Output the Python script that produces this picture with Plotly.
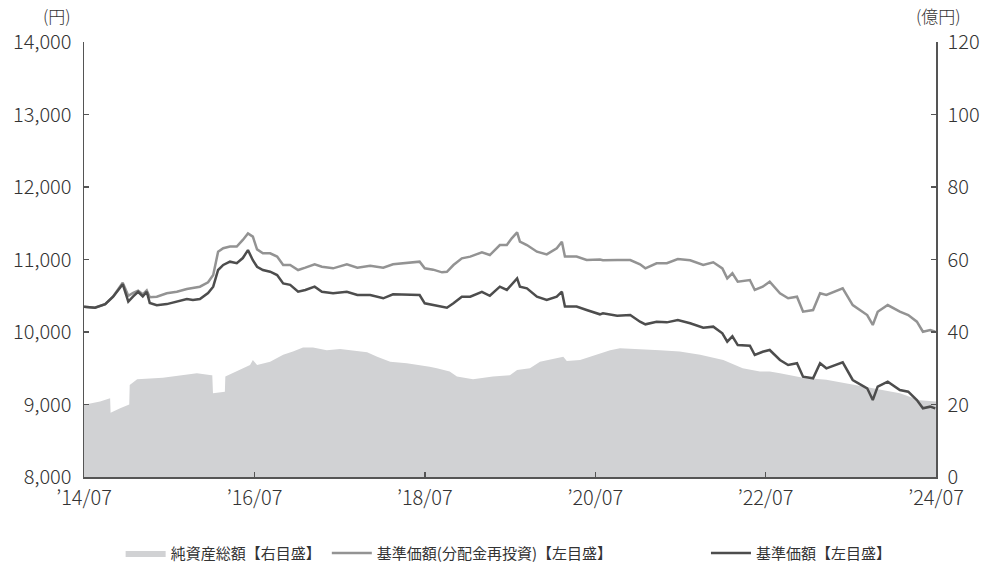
import plotly.graph_objects as go

# ---- data ----
price_dates = [
    "2014-07-01","2014-08-17","2014-09-30","2014-11-03","2014-12-14","2015-01-07","2015-01-28","2015-02-18",
    "2015-03-10","2015-03-27","2015-04-09","2015-05-09","2015-06-21","2015-08-03","2015-09-15","2015-10-11",
    "2015-11-10","2015-12-15","2016-01-06","2016-01-27","2016-02-18","2016-03-18","2016-04-16","2016-05-12",
    "2016-06-03","2016-06-24","2016-07-12","2016-08-06","2016-09-06","2016-10-06","2016-11-01","2016-12-01",
    "2017-01-04","2017-02-04","2017-03-16","2017-04-16","2017-06-03","2017-08-01","2017-09-15","2017-11-09",
    "2018-01-04","2018-02-15","2018-04-15","2018-06-09","2018-07-01","2018-08-06","2018-09-13","2018-10-04",
    "2018-11-01","2018-12-07","2019-01-12","2019-03-03","2019-04-06","2019-05-19","2019-06-18","2019-07-09",
    "2019-08-01","2019-08-13","2019-09-12","2019-10-25","2019-12-06","2020-01-18","2020-02-09","2020-02-22",
    "2020-04-12","2020-05-25","2020-07-21","2020-08-03","2020-10-03","2020-11-28","2021-01-09","2021-02-01",
    "2021-03-21","2021-05-04","2021-06-20","2021-08-12","2021-10-07","2021-11-19","2021-12-28","2022-01-18",
    "2022-02-09","2022-03-04","2022-04-25","2022-05-16","2022-06-19","2022-07-19","2022-09-01","2022-10-06",
    "2022-11-13","2022-12-09","2023-01-21","2023-02-20","2023-03-19","2023-05-28","2023-07-10","2023-09-10",
    "2023-10-04","2023-10-25","2023-12-07","2024-01-28","2024-03-04","2024-04-10","2024-05-06","2024-06-06",
    "2024-06-28",
]
nav = [
    10350,10335,10385,10487,10660,10420,10490,10555,
    10490,10555,10400,10370,10385,10420,10455,10440,
    10455,10538,10625,10855,10925,10970,10950,11020,
    11130,10990,10900,10855,10832,10786,10670,10650,
    10556,10580,10625,10556,10535,10556,10510,10510,
    10465,10520,10510,10510,10396,10372,10350,10335,
    10396,10487,10487,10555,10500,10625,10580,10650,
    10740,10625,10602,10487,10441,10487,10556,10350,
    10350,10303,10244,10258,10225,10234,10142,10106,
    10142,10133,10166,10120,10060,10074,9982,9866,
    9940,9820,9811,9683,9728,9752,9614,9545,
    9569,9384,9361,9568,9499,9582,9338,9223,
    9062,9246,9315,9200,9177,9062,8947,8970,
    8947,
]
nav_reinvested = [
    10350,10335,10385,10490,10680,10500,10540,10570,
    10520,10575,10480,10487,10535,10555,10594,10610,
    10625,10685,10786,11108,11155,11178,11178,11270,
    11360,11315,11140,11085,11085,11040,10924,10924,
    10855,10887,10934,10900,10878,10934,10887,10915,
    10887,10934,10948,10970,10878,10860,10823,10830,
    10924,11016,11040,11100,11062,11200,11200,11292,
    11375,11246,11200,11108,11070,11154,11246,11040,
    11040,10993,11000,10990,10993,10993,10934,10878,
    10948,10948,11007,10990,10924,10961,10878,10740,
    10810,10694,10717,10580,10625,10694,10534,10465,
    10487,10280,10303,10534,10510,10603,10372,10234,
    10097,10280,10372,10280,10234,10142,10004,10028,
    10004,
]

asset_dates = [
    "2014-07-01","2014-09-08","2014-10-21","2014-10-23","2014-12-03","2015-01-07","2015-01-11","2015-01-13",
    "2015-02-14","2015-06-04","2015-08-16","2015-10-28","2015-12-30","2016-01-02","2016-01-05","2016-02-18",
    "2016-02-25","2016-02-27","2016-04-16","2016-06-12","2016-06-24","2016-07-12","2016-09-06","2016-11-01",
    "2016-12-13","2017-01-25","2017-03-09","2017-05-07","2017-07-03","2017-08-28","2017-10-27","2017-12-09",
    "2018-02-03","2018-04-15","2018-06-09","2018-07-22","2018-08-22","2018-10-16","2018-11-16","2019-01-24",
    "2019-04-19","2019-07-01","2019-08-01","2019-09-25","2019-11-07","2020-01-03","2020-02-15","2020-03-01",
    "2020-04-27","2020-06-09","2020-07-21","2020-09-03","2020-10-15","2021-01-09","2021-04-04","2021-06-28",
    "2021-09-24","2022-01-01","2022-03-25","2022-06-07","2022-07-19","2022-09-01","2022-12-09","2023-03-19",
    "2023-07-10","2023-10-04","2024-01-28","2024-04-22","2024-07-01",
]
net_assets = [
    19.9,20.8,21.7,17.7,19.0,19.9,20.0,25.4,
    27.0,27.4,27.9,28.6,28.1,28.1,23.1,23.5,
    23.5,27.7,29.1,30.9,32.3,30.9,31.8,33.7,
    34.6,35.7,35.7,35.0,35.3,34.8,34.4,33.2,
    31.8,31.4,30.9,30.4,30.0,29.1,27.7,27.0,
    27.7,28.1,29.5,30.0,31.8,32.7,33.2,32.0,
    32.3,33.2,34.1,35.0,35.5,35.3,35.0,34.6,
    33.7,32.3,30.0,29.1,29.1,28.6,27.4,26.8,
    25.6,24.5,23.1,21.2,20.8,
]

tick_dates = ["2014-07-01","2016-07-01","2018-07-01","2020-07-01","2022-07-01","2024-07-01"]
tick_labels = ["’14/07","’16/07","’18/07","’20/07","’22/07","’24/07"]

FONT = "Noto Sans CJK JP"
AXIS_COLOR = "#555555"
TEXT_COLOR = "#333333"
TICKFONT = dict(family=FONT, size=20, color=TEXT_COLOR, weight=300)

fig = go.Figure()
fig.add_trace(go.Scatter(
    x=asset_dates, y=net_assets, name="純資産総額【右目盛】",
    mode="lines", line=dict(width=0, color="#d1d2d4"),
    fill="tozeroy", fillcolor="#d1d2d4", yaxis="y", legend="legend",
))
fig.add_trace(go.Scatter(
    x=price_dates, y=nav_reinvested, name="基準価額(分配金再投資)【左目盛】",
    mode="lines", line=dict(width=2.5, color="#939393"), yaxis="y2", legend="legend2",
))
fig.add_trace(go.Scatter(
    x=price_dates, y=nav, name="基準価額【左目盛】",
    mode="lines", line=dict(width=2.5, color="#4d4d4d"), yaxis="y2", legend="legend3",
))

leg_common = dict(orientation="h", y=-0.175, yanchor="middle", xanchor="left",
                  itemwidth=40, bgcolor="rgba(0,0,0,0)",
                  font=dict(family=FONT, size=15, color=TEXT_COLOR))

axis_common = dict(showline=True, linecolor=AXIS_COLOR, linewidth=1.5,
                   ticks="inside", ticklen=5, tickcolor=AXIS_COLOR, tickwidth=1.5,
                   showgrid=False, zeroline=False, automargin=False, tickfont=TICKFONT)

fig.update_layout(
    width=981, height=572,
    margin=dict(l=84, r=45, t=42, b=95, autoexpand=False),
    paper_bgcolor="white", plot_bgcolor="white",
    font=dict(family=FONT, size=17, color=TEXT_COLOR),
    showlegend=True,
    legend=dict(x=0.043, **leg_common),
    legend2=dict(x=0.285, **leg_common),
    legend3=dict(x=0.730, **leg_common),
    xaxis=dict(type="date", range=["2014-07-01", "2024-07-01"],
               tickvals=tick_dates, ticktext=tick_labels, ticklabelstandoff=2, **axis_common),
    yaxis=dict(side="right", range=[0, 120], dtick=20, ticklabelstandoff=6, **axis_common),
    yaxis2=dict(side="left", overlaying="y", range=[8000, 14000], dtick=1000,
                tickformat=",", ticklabelstandoff=7, **axis_common),
    annotations=[
        dict(text="(円)", xref="paper", yref="paper", x=-0.032, y=1.062,
             showarrow=False, font=dict(size=17, color=TEXT_COLOR, weight=300),
             xanchor="center", yanchor="middle"),
        dict(text="(億円)", xref="paper", yref="paper", x=1.003, y=1.062,
             showarrow=False, font=dict(size=17, color=TEXT_COLOR, weight=300),
             xanchor="center", yanchor="middle"),
    ],
)

# remove the browser's default body margin so the figure fills the window exactly
fig.write_html(
    "out.html",
    config={"displayModeBar": False, "staticPlot": True},
    post_script="document.body.style.margin='0';document.body.style.overflow='hidden';",
)
